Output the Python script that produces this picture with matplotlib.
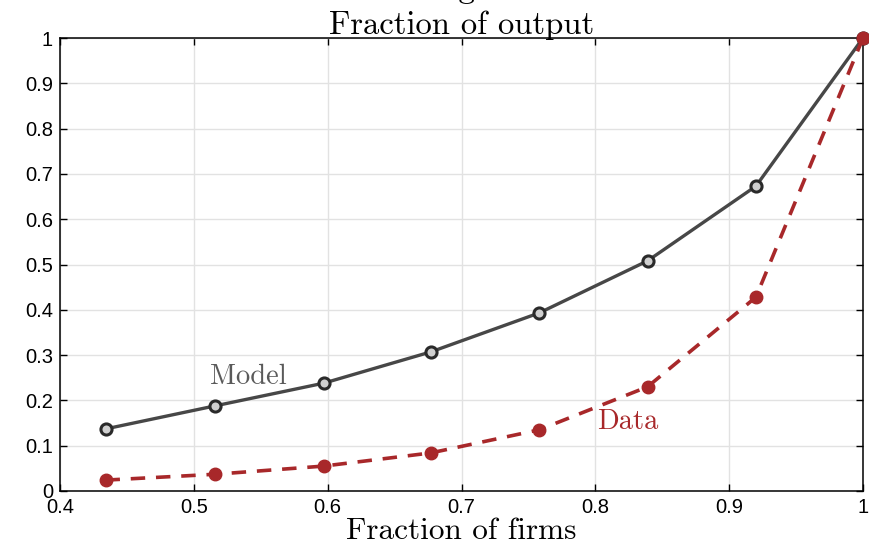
import matplotlib
matplotlib.use('Agg')
import matplotlib.pyplot as plt
import numpy as np

# fraction of firms (x) and fraction of output (y)
firms = [0.434, 0.516, 0.597, 0.677, 0.758, 0.839, 0.920, 1.0]
model = [0.137, 0.188, 0.238, 0.307, 0.393, 0.508, 0.673, 1.0]
data = [0.024, 0.037, 0.055, 0.084, 0.135, 0.230, 0.428, 1.0]

xticks = [0.4, 0.5, 0.6, 0.7, 0.8, 0.9, 1.0]
xtick_labels = ['0.4', '0.5', '0.6', '0.7', '0.8', '0.9', '1']
yticks = [0, 0.1, 0.2, 0.3, 0.4, 0.5, 0.6, 0.7, 0.8, 0.9, 1.0]
ytick_labels = ['0', '0.1', '0.2', '0.3', '0.4', '0.5', '0.6', '0.7', '0.8', '0.9', '1']

model_color = '#474747'
data_color = '#A8282A'
serif = 'cmr10'

fig = plt.figure(figsize=(8.69, 5.43), dpi=100)
ax = fig.add_axes([60 / 869, 1 - 491 / 543, 803 / 869, 453 / 543])

ax.plot(firms, model, '-', color=model_color, lw=2.4, marker='o', ms=8,
        mfc='#d0d0d0', mec='#2a2a2a', mew=2.2, zorder=3, clip_on=False)
ax.plot(firms, data, '--', color=data_color, lw=2.6, dashes=(4, 3), marker='o', ms=9,
        mfc=data_color, mec=data_color, zorder=3, clip_on=False)

ax.text(0.5405, 0.252, 'Model', color='#5a5a5a', fontsize=20.5, family=serif,
        ha='center', va='center')
ax.text(0.8245, 0.152, 'Data', color=data_color, fontsize=20.5, family=serif,
        ha='center', va='center')

ax.set_xlim(0.4, 1.0)
ax.set_ylim(0, 1.0)
ax.set_xticks(xticks)
ax.set_xticklabels(xtick_labels, family='Liberation Sans', fontsize=14.5)
ax.set_yticks(yticks)
ax.set_yticklabels(ytick_labels, family='Liberation Sans', fontsize=14.5)
ax.tick_params(direction='in', top=True, right=True, length=5, width=1, pad=5)
ax.grid(True, color='#e2e2e2', lw=1)
ax.set_axisbelow(True)
for s in ax.spines.values():
    s.set_linewidth(1.1)

ax.set_xlabel('Fraction of firms', family=serif, fontsize=22.5, labelpad=0)
ax.set_title('Fraction of output', family=serif, fontsize=23.5, pad=3)
# first title line, mostly cut off at the top edge
ax.annotate('Age', xy=(0.5, 1), xycoords='axes fraction', xytext=(0, 40),
            textcoords='offset pixels', ha='center', va='baseline',
            family=serif, fontsize=23.5, annotation_clip=False)

fig.savefig('out.png', dpi=100)
